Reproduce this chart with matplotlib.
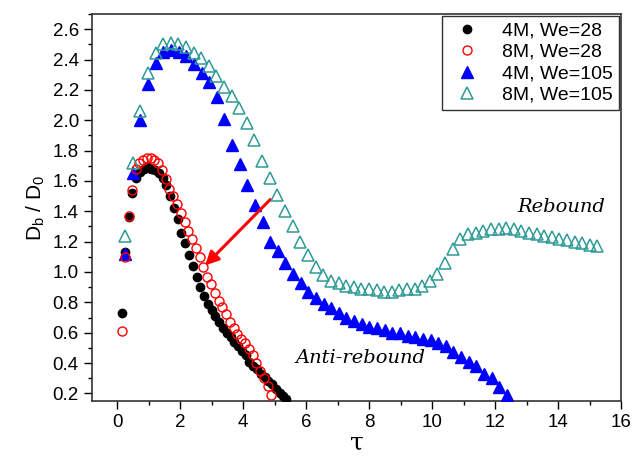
import matplotlib
matplotlib.use("Agg")
import matplotlib.pyplot as plt
from matplotlib.ticker import MultipleLocator

plt.rcParams['font.family'] = ['Liberation Sans', 'DejaVu Sans']

# 4M, We=28
tau_4m28 = [0.16, 0.25, 0.38, 0.48, 0.60, 0.72, 0.84, 0.96, 1.08, 1.20, 1.32, 1.44,
            1.56, 1.68, 1.80, 1.92, 2.04, 2.16, 2.28, 2.40, 2.52, 2.64, 2.76, 2.88,
            3.00, 3.12, 3.24, 3.36, 3.48, 3.60, 3.72, 3.84, 3.96, 4.08, 4.20, 4.32,
            4.44, 4.56, 4.68, 4.80, 4.92, 5.04, 5.16, 5.28, 5.36]
d_4m28 = [0.73, 1.13, 1.36, 1.52, 1.62, 1.66, 1.68, 1.69, 1.68, 1.67, 1.65, 1.62,
          1.57, 1.50, 1.42, 1.35, 1.26, 1.19, 1.11, 1.04, 0.97, 0.90, 0.84, 0.79,
          0.75, 0.71, 0.67, 0.63, 0.60, 0.57, 0.54, 0.51, 0.48, 0.45, 0.41, 0.38,
          0.36, 0.33, 0.31, 0.28, 0.26, 0.23, 0.20, 0.18, 0.16]

# 8M, We=28
tau_8m28 = [0.16, 0.25, 0.38, 0.48, 0.60, 0.70, 0.82, 0.94, 1.06, 1.18, 1.30, 1.42,
            1.54, 1.66, 1.78, 1.90, 2.02, 2.14, 2.26, 2.38, 2.50, 2.62, 2.74, 2.86,
            2.98, 3.10, 3.22, 3.34, 3.46, 3.58, 3.70, 3.82, 3.94, 4.06, 4.18, 4.30,
            4.42, 4.54, 4.66, 4.78, 4.90]
d_8m28 = [0.61, 1.10, 1.37, 1.54, 1.68, 1.72, 1.74, 1.75, 1.75, 1.74, 1.72, 1.67,
          1.61, 1.55, 1.50, 1.45, 1.39, 1.33, 1.27, 1.22, 1.16, 1.10, 1.03, 0.97,
          0.92, 0.86, 0.81, 0.77, 0.72, 0.67, 0.63, 0.59, 0.56, 0.53, 0.49, 0.45,
          0.40, 0.35, 0.30, 0.25, 0.19]

# 4M, We=105
tau_4m105 = [0.25, 0.49, 0.73, 0.98, 1.22, 1.46, 1.70, 1.95, 2.19, 2.43, 2.68, 2.92,
             3.16, 3.40, 3.65, 3.89, 4.13, 4.37, 4.62, 4.86, 5.10, 5.34, 5.59, 5.83,
             6.07, 6.31, 6.56, 6.80, 7.04, 7.28, 7.53, 7.77, 8.01, 8.25, 8.50, 8.74,
             8.98, 9.22, 9.47, 9.71, 9.95, 10.19, 10.44, 10.68, 10.92, 11.16, 11.41,
             11.65, 11.89, 12.13, 12.38]
d_4m105 = [1.12, 1.65, 2.00, 2.24, 2.38, 2.45, 2.46, 2.45, 2.42, 2.37, 2.31, 2.25,
           2.15, 2.01, 1.84, 1.71, 1.57, 1.44, 1.33, 1.20, 1.14, 1.06, 0.99, 0.93,
           0.87, 0.83, 0.79, 0.76, 0.73, 0.70, 0.68, 0.66, 0.64, 0.63, 0.62, 0.60,
           0.60, 0.58, 0.57, 0.56, 0.55, 0.53, 0.51, 0.47, 0.44, 0.41, 0.38, 0.33,
           0.30, 0.24, 0.19]

# 8M, We=105
tau_8m105 = [0.25, 0.49, 0.73, 0.98, 1.22, 1.46, 1.70, 1.94, 2.19, 2.43, 2.67, 2.91,
             3.15, 3.40, 3.64, 3.88, 4.12, 4.36, 4.61, 4.85, 5.09, 5.33, 5.57, 5.82,
             6.06, 6.30, 6.54, 6.78, 7.03, 7.27, 7.51, 7.75, 7.99, 8.24, 8.48, 8.72,
             8.96, 9.20, 9.45, 9.69, 9.93, 10.17, 10.41, 10.66, 10.90, 11.14, 11.38,
             11.62, 11.87, 12.11, 12.35, 12.59, 12.83, 13.08, 13.32, 13.56, 13.80,
             14.04, 14.29, 14.53, 14.77, 15.01, 15.25]
d_8m105 = [1.24, 1.72, 2.06, 2.31, 2.44, 2.50, 2.51, 2.50, 2.48, 2.44, 2.41, 2.36,
           2.29, 2.22, 2.16, 2.08, 1.98, 1.87, 1.73, 1.62, 1.51, 1.40, 1.30, 1.20,
           1.11, 1.03, 0.98, 0.94, 0.93, 0.91, 0.90, 0.89, 0.89, 0.88, 0.87, 0.87,
           0.88, 0.89, 0.89, 0.91, 0.94, 0.99, 1.06, 1.15, 1.22, 1.25, 1.26, 1.27,
           1.28, 1.28, 1.29, 1.28, 1.27, 1.26, 1.25, 1.24, 1.23, 1.22, 1.21, 1.20,
           1.19, 1.18, 1.17]

fig = plt.figure(figsize=(6.32, 4.59), dpi=100)
ax = fig.add_axes([0.1456, 0.1264, 0.837, 0.8431])

ax.plot(tau_4m28, d_4m28, 'o', color='black', ms=6, label='4M, We=28', zorder=3)
ax.plot(tau_8m28, d_8m28, 'o', mfc='none', mec='red', mew=1.0, ms=6.5, label='8M, We=28', zorder=4)
ax.plot(tau_4m105, d_4m105, '^', color='#0000ff', ms=8, label='4M, We=105', zorder=3)
ax.plot(tau_8m105, d_8m105, '^', mfc='none', mec='#2f9a96', mew=1.1, ms=8.5, label='8M, We=105', zorder=4)

ax.annotate('', xy=(2.73, 1.03), xytext=(4.92, 1.49),
            arrowprops=dict(arrowstyle='-|>', color='red', lw=2.2, mutation_scale=20))

ax.text(12.7, 1.43, 'Rebound', family='DejaVu Serif', style='italic', fontsize=14, va='center')
ax.text(5.65, 0.43, 'Anti-rebound', family='DejaVu Serif', style='italic', fontsize=14, va='center')

ax.set_xlim(-0.8, 16)
ax.set_ylim(0.15, 2.7)
ax.xaxis.set_major_locator(MultipleLocator(2))
ax.xaxis.set_minor_locator(MultipleLocator(1))
ax.yaxis.set_major_locator(MultipleLocator(0.2))
ax.yaxis.set_minor_locator(MultipleLocator(0.1))
ax.set_yticks([0.2, 0.4, 0.6, 0.8, 1.0, 1.2, 1.4, 1.6, 1.8, 2.0, 2.2, 2.4, 2.6])
ax.tick_params(which='major', direction='out', length=6, labelsize=13.5, width=1)
ax.tick_params(which='minor', direction='out', length=3, width=1)
for s in ax.spines.values():
    s.set_color('#333333')
    s.set_linewidth(1.2)

ax.set_xlabel('τ', fontsize=18, family='DejaVu Serif', labelpad=0)
ax.set_ylabel(r'D$_\mathregular{b}$ / D$_\mathregular{0}$', fontsize=15, labelpad=4)

leg = ax.legend(loc='upper right', fontsize=14, frameon=True, fancybox=False,
                edgecolor='black', borderaxespad=0.1, handletextpad=0.8,
                labelspacing=0.2, borderpad=0.3, handlelength=2.0)
leg.get_frame().set_linewidth(1.0)

fig.savefig('out.png', dpi=100)
